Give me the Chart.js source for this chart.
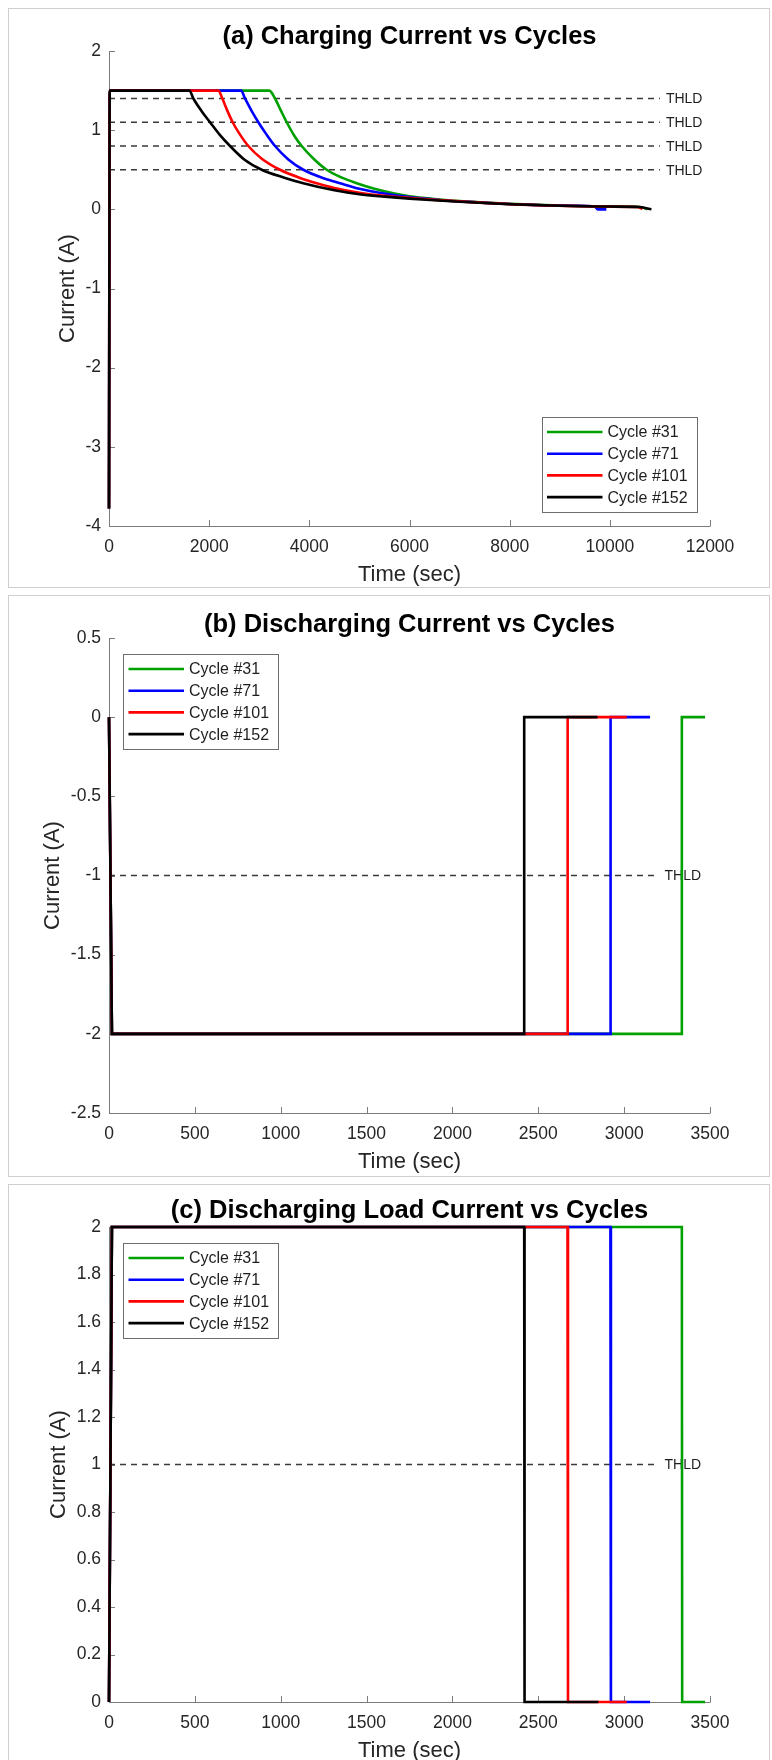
<!DOCTYPE html>
<html>
<head>
<meta charset="utf-8">
<script src="https://cdn.jsdelivr.net/npm/chart.js@4.4.1/dist/chart.umd.min.js"></script>
<style>
  html, body { margin: 0; padding: 0; background: #ffffff; }
  body { width: 772px; height: 1760px; position: relative; overflow: hidden; }
  .panel { position: absolute; left: 8px; width: 762px; border: 1px solid #cfcfcf; box-sizing: border-box; background: #fff; }
  .plot { position: absolute; left: 0; width: 772px; height: 580px; }
</style>
</head>
<body>
<div class="panel" style="top:8px;height:580px"></div>
<div class="panel" style="top:595px;height:582px"></div>
<div class="panel" style="top:1184px;height:600px"></div>
<div class="plot" style="top:8px"><canvas id="chartA" width="772" height="580"></canvas></div>
<div class="plot" style="top:595px"><canvas id="chartB" width="772" height="580"></canvas></div>
<div class="plot" style="top:1184px"><canvas id="chartC" width="772" height="580"></canvas></div>
<script>
// ---- series names ----
const cycleLabels = ['Cycle #31', 'Cycle #71', 'Cycle #101', 'Cycle #152'];

// ---- (a) charging current: time (s) / current (A) ----
const chgT31 = [0, 15, 3201, 3315, 3430, 3548, 3700, 3847, 4100, 4347, 4650, 4946, 5300, 5700, 6000, 6500, 7000, 7500, 8000, 9000, 10000, 10600, 10750];
const chgI31 = [-3.78, 1.5, 1.5, 1.4, 1.25, 1.1, 0.93, 0.8, 0.63, 0.5, 0.4, 0.33, 0.26, 0.2, 0.165, 0.13, 0.105, 0.085, 0.07, 0.048, 0.036, 0.03, 0.0];
const chgT71 = [0, 15, 2636, 2716, 2850, 2982, 3140, 3315, 3580, 3880, 4300, 4612, 5000, 5500, 6000, 6500, 7000, 8000, 9000, 9700, 9760, 9930];
const chgI71 = [-3.78, 1.5, 1.5, 1.4, 1.24, 1.1, 0.95, 0.8, 0.63, 0.5, 0.39, 0.33, 0.26, 0.2, 0.155, 0.125, 0.1, 0.068, 0.047, 0.035, 0.0, 0.0];
const chgT101 = [0, 15, 2183, 2263, 2360, 2469, 2600, 2782, 3050, 3414, 3800, 4147, 4500, 5000, 5500, 6000, 6500, 7000, 8000, 9000, 10000, 10550, 10650];
const chgI101 = [-3.78, 1.5, 1.5, 1.4, 1.25, 1.1, 0.96, 0.8, 0.64, 0.5, 0.4, 0.33, 0.27, 0.21, 0.17, 0.145, 0.12, 0.1, 0.066, 0.046, 0.034, 0.03, 0.005];
const chgT152 = [0, 15, 1604, 1684, 1850, 2017, 2200, 2416, 2700, 3049, 3500, 3880, 4500, 5000, 5500, 6000, 6500, 7000, 8000, 9000, 10000, 10600, 10830];
const chgI152 = [-3.78, 1.5, 1.5, 1.4, 1.24, 1.1, 0.95, 0.8, 0.63, 0.5, 0.4, 0.33, 0.24, 0.19, 0.16, 0.135, 0.115, 0.095, 0.065, 0.045, 0.035, 0.03, 0.0];

// ---- (b) discharging current ----
const disT31 = [0, 17, 3336, 3336, 3471];
const disI31 = [0, -2, -2, 0, 0];
const disT71 = [0, 17, 2921, 2921, 3151];
const disI71 = [0, -2, -2, 0, 0];
const disT101 = [0, 17, 2671, 2671, 3015];
const disI101 = [0, -2, -2, 0, 0];
const disT152 = [0, 17, 2418, 2418, 2845];
const disI152 = [0, -2, -2, 0, 0];

// ---- (c) discharging load current ----
const loadT31 = [0, 17, 3336, 3338, 3471];
const loadI31 = [0, 2, 2, 0, 0];
const loadT71 = [0, 17, 2920, 2923, 3151];
const loadI71 = [0, 2, 2, 0, 0];
const loadT101 = [0, 17, 2670, 2673, 3015];
const loadI101 = [0, 2, 2, 0, 0];
const loadT152 = [0, 17, 2418, 2420, 2850];
const loadI152 = [0, 2, 2, 0, 0];

// ---- threshold levels and where their dashed lines stop ----
const thldCharge = [1.4, 1.1, 0.8, 0.5];
const thldChargeEnd = 11000;
const thldDischarge = [-1];
const thldLoad = [1];
const thldDischargeEnd = 3200;

// ---- tick labels ----
const ticksXA = [0, 2000, 4000, 6000, 8000, 10000, 12000];
const ticksYA = [-4, -3, -2, -1, 0, 1, 2];
const ticksXB = [0, 500, 1000, 1500, 2000, 2500, 3000, 3500];
const ticksYB = [-2.5, -2, -1.5, -1, -0.5, 0, 0.5];
const ticksYC = [0, 0.2, 0.4, 0.6, 0.8, 1, 1.2, 1.4, 1.6, 1.8, 2];

// ---- styling ----
const cycleColors = ['#00a000', '#0000ff', '#ff0000', '#000000'];
const cycleOrder = [3, 2, 1, 0];   // black drawn on top, green underneath
const FONT = '"Liberation Sans", Arial, Helvetica, sans-serif';
const AXIS_GREY = '#7c7c7c';
const TEXT = '#262626';

function pairs(xs, ys) { return xs.map((t, i) => ({ x: t, y: ys[i] })); }

function cycleSets(series, smooth) {
  return series.map(([xs, ys], i) => ({
    label: cycleLabels[i],
    data: pairs(xs, ys),
    borderColor: cycleColors[i],
    backgroundColor: cycleColors[i],
    borderWidth: 2.6,
    pointRadius: 0,
    fill: false,
    clip: 4,
    order: cycleOrder[i],
    tension: 0,
    cubicInterpolationMode: smooth ? 'monotone' : 'default'
  }));
}

function thldSets(levels, end) {
  return levels.map(v => ({
    thld: true,
    label: 'THLD',
    data: [{ x: 0, y: v }, { x: end, y: v }],
    borderColor: '#3a3a3a',
    borderWidth: 1.5,
    borderDash: [6, 5],
    pointRadius: 0,
    fill: false,
    order: 10
  }));
}

// Axes with inward ticks, THLD tags, title and boxed legend
const decor = {
  id: 'decor',
  beforeDatasetsDraw(chart, args, opts) {
    const { ctx, chartArea: a, scales: { x, y } } = chart;
    ctx.save();
    ctx.strokeStyle = AXIS_GREY;
    ctx.lineWidth = 1;
    ctx.beginPath();
    ctx.moveTo(a.left + 0.5, a.top);
    ctx.lineTo(a.left + 0.5, a.bottom + 0.5);
    ctx.lineTo(a.right + 0.5, a.bottom + 0.5);
    x.ticks.forEach(t => {
      const px = Math.round(x.getPixelForValue(t.value)) + 0.5;
      ctx.moveTo(px, a.bottom);
      ctx.lineTo(px, a.bottom - 6);
    });
    y.ticks.forEach(t => {
      const py = Math.round(y.getPixelForValue(t.value)) + 0.5;
      ctx.moveTo(a.left, py);
      ctx.lineTo(a.left + 6, py);
    });
    ctx.stroke();

    ctx.fillStyle = '#1e1e1e';
    ctx.font = '14px ' + FONT;
    ctx.textBaseline = 'middle';
    ctx.textAlign = 'left';
    chart.data.datasets.forEach(ds => {
      if (!ds.thld) return;
      const end = ds.data[ds.data.length - 1];
      ctx.fillText('THLD', x.getPixelForValue(end.x) + 6, y.getPixelForValue(end.y) + 1);
    });
    ctx.restore();
  },
  afterDatasetsDraw(chart, args, opts) {
    const { ctx, chartArea: a } = chart;
    const items = chart.data.datasets.filter(ds => !ds.thld);
    const w = 155, h = 95;
    const left = opts.legendAt === 'br' ? a.right - 13.5 - w : a.left + 14;
    const top = opts.legendAt === 'br' ? a.bottom - 14.5 - h : a.top + 15.5;
    ctx.save();
    ctx.fillStyle = '#ffffff';
    ctx.fillRect(left, top, w, h);
    ctx.strokeStyle = '#6e6e6e';
    ctx.lineWidth = 1;
    ctx.strokeRect(Math.round(left) + 0.5, Math.round(top) + 0.5, w, h);
    ctx.font = '16px ' + FONT;
    ctx.textBaseline = 'middle';
    ctx.textAlign = 'left';
    items.forEach((ds, i) => {
      const cy = top + 15.5 + i * 21.7;
      ctx.strokeStyle = ds.borderColor;
      ctx.lineWidth = 2.6;
      ctx.beginPath();
      ctx.moveTo(left + 5.5, cy);
      ctx.lineTo(left + 61, cy);
      ctx.stroke();
      ctx.fillStyle = '#1e1e1e';
      ctx.fillText(ds.label, left + 66, cy + 1);
    });
    ctx.restore();
  },
  afterDraw(chart, args, opts) {
    const { ctx, chartArea: a } = chart;
    ctx.save();
    ctx.fillStyle = '#000000';
    ctx.font = 'bold 25.5px ' + FONT;
    ctx.textAlign = 'center';
    ctx.textBaseline = 'middle';
    ctx.fillText(opts.title, (a.left + a.right) / 2, opts.titleY);
    ctx.restore();
  }
};

function fixedTicks(values) {
  return scale => { scale.ticks = values.map(v => ({ value: v })); };
}

function makeChart(id, cfg) {
  return new Chart(document.getElementById(id), {
    type: 'line',
    data: { datasets: cfg.datasets },
    plugins: [decor],
    options: {
      responsive: false,
      animation: false,
      devicePixelRatio: 1,
      layout: { padding: { top: 43, right: 62, bottom: 0, left: 0 } },
      plugins: {
        legend: { display: false },
        tooltip: { enabled: false },
        title: { display: false },
        decor: { title: cfg.title, titleY: cfg.titleY, legendAt: cfg.legendAt }
      },
      scales: {
        x: {
          type: 'linear',
          min: cfg.xTicks[0],
          max: cfg.xTicks[cfg.xTicks.length - 1],
          afterBuildTicks: fixedTicks(cfg.xTicks),
          afterFit: s => { s.height = 62; },
          grid: { display: false, drawTicks: false },
          border: { display: false },
          ticks: {
            padding: 11, color: TEXT, autoSkip: false, maxRotation: 0,
            font: { family: FONT, size: 17.5 },
            callback: v => String(v)
          },
          title: {
            display: true, text: 'Time (sec)', color: TEXT,
            font: { family: FONT, size: 22 }, padding: { top: 0, bottom: 0 }
          }
        },
        y: {
          type: 'linear',
          min: cfg.yTicks[0],
          max: cfg.yTicks[cfg.yTicks.length - 1],
          afterBuildTicks: fixedTicks(cfg.yTicks),
          afterFit: s => { s.width = 109; },
          grid: { display: false, drawTicks: false },
          border: { display: false },
          ticks: {
            padding: 8, color: TEXT, autoSkip: false,
            font: { family: FONT, size: 17.5 },
            callback: v => String(v)
          },
          title: {
            display: true, text: 'Current (A)', color: TEXT,
            font: { family: FONT, size: 22 }, padding: { top: cfg.yTitlePad, bottom: 0 }
          }
        }
      }
    }
  });
}

makeChart('chartA', {
  title: '(a) Charging Current vs Cycles',
  titleY: 29,
  legendAt: 'br',
  xTicks: ticksXA,
  yTicks: ticksYA,
  yTitlePad: 55,
  datasets: thldSets(thldCharge, thldChargeEnd).concat(cycleSets([
    [chgT31, chgI31], [chgT71, chgI71], [chgT101, chgI101], [chgT152, chgI152]
  ], true))
});

makeChart('chartB', {
  title: '(b) Discharging Current vs Cycles',
  titleY: 30,
  legendAt: 'tl',
  xTicks: ticksXB,
  yTicks: ticksYB,
  yTitlePad: 40,
  datasets: thldSets(thldDischarge, thldDischargeEnd).concat(cycleSets([
    [disT31, disI31], [disT71, disI71], [disT101, disI101], [disT152, disI152]
  ], false))
});

makeChart('chartC', {
  title: '(c) Discharging Load Current vs Cycles',
  titleY: 27,
  legendAt: 'tl',
  xTicks: ticksXB,
  yTicks: ticksYC,
  yTitlePad: 46,
  datasets: thldSets(thldLoad, thldDischargeEnd).concat(cycleSets([
    [loadT31, loadI31], [loadT71, loadI71], [loadT101, loadI101], [loadT152, loadI152]
  ], false))
});
</script>
</body>
</html>
